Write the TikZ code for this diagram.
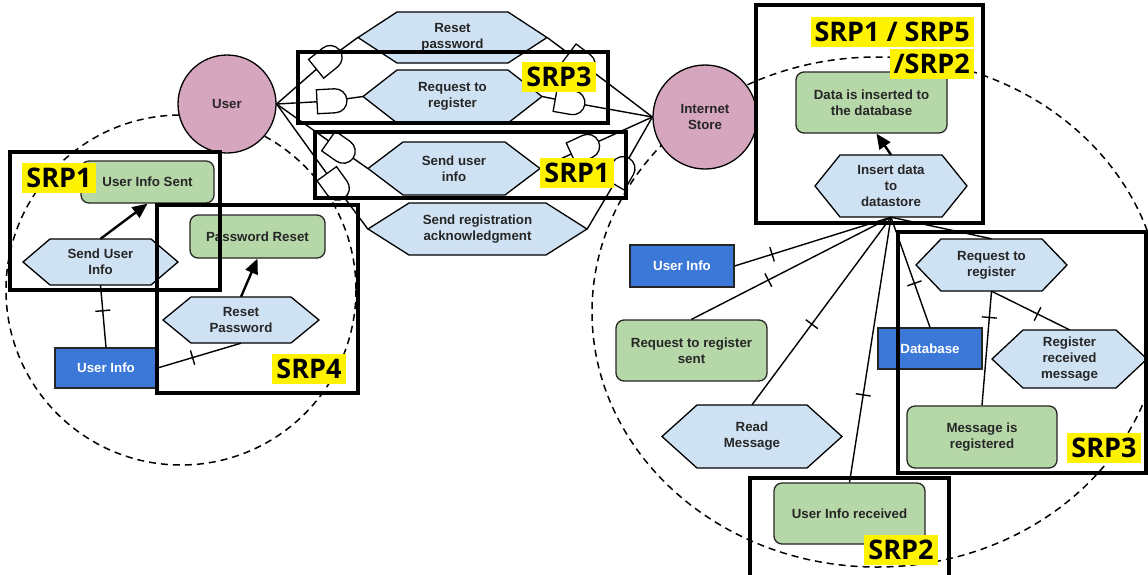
\documentclass[tikz,border=0pt]{standalone}
\usepackage{fontspec}
\setmainfont{Liberation Sans}
\newfontfamily\srpfont{Open Sans}
\usetikzlibrary{arrows.meta,decorations.markings,shapes.gates.logic.US}

\definecolor{actorpink}{HTML}{D5A6BD}
\definecolor{hexblue}{HTML}{CFE2F3}
\definecolor{resgreen}{HTML}{B6D7A8}
\definecolor{datablue}{HTML}{3C78D8}
\definecolor{inkgray}{HTML}{262626}

\tikzset{
  lbl/.style={font=\fontsize{13.3}{16}\selectfont\bfseries, text=inkgray, align=center},
  actor/.style={circle, draw=black, line width=1.3pt, fill=actorpink, lbl, inner sep=0pt},
  gbox/.style={rectangle, rounded corners=8pt, draw=inkgray, line width=1.3pt, fill=resgreen, lbl, inner sep=0pt},
  bbox/.style={rectangle, draw=inkgray, line width=1.1pt, fill=datablue, lbl, text=white, inner sep=0pt},
  hexbox/.style={rectangle, draw=none, lbl, inner sep=0pt},
  hexline/.style={draw=black, line width=1.3pt, fill=hexblue, line join=miter},
  conn/.style={draw=black, line width=1.4pt},
  arr/.style={draw=black, line width=2.4pt, -{Triangle[length=15pt,width=13pt]}},
  crossmark/.style={postaction={decorate,decoration={markings,
      mark=at position #1 with {\draw[black,line width=1.4pt] (0,-7.5pt) -- (0,7.5pt);}}}},
  gate/.style={and gate US, draw=black, fill=white, line width=1.3pt,
      minimum height=24pt, minimum width=24pt, inner sep=0pt},
  region/.style={draw=black, line width=1.5pt, dash pattern=on 7pt off 5pt},
  srpbox/.style={draw=black, line width=3.6pt},
  srplabel/.style={fill=yellow, text=black, font=\srpfont\bfseries\fontsize{27}{30}\selectfont,
      inner xsep=4pt, inner ysep=0pt, minimum height=30pt, text height=19.5pt, text depth=0pt},
}

% hexagonal activity: name, centre x, centre y, half width, half height, tip depth, text
\newcommand{\hexnode}[7]{%
  \draw[hexline] (#2-#4,#3) -- (#2-#4+#6,#3-#5) -- (#2+#4-#6,#3-#5) -- (#2+#4,#3)
     -- (#2+#4-#6,#3+#5) -- (#2-#4+#6,#3+#5) -- cycle;
  \node[hexbox, minimum width=2*#4, minimum height=2*#5] (#1) at (#2,#3) {#7};
}

\begin{document}
\begin{tikzpicture}[x=1pt,y=-1pt]
\useasboundingbox[fill=white] (0,0) rectangle (1148,574);

% dashed regions of the two actors
\draw[region] (181,290) circle[radius=175];
\draw[region] (877,312) ellipse[x radius=285, y radius=255];

% actors
\node[actor, minimum size=98] (user) at (227,104) {User};
\node[actor, minimum size=104] (store) at (705,117) {Internet\\Store};

% activities
\hexnode{rstp}{452.5}{37.5}{94.5}{25.5}{39}{Reset\\password}
\hexnode{rreg}{452.5}{96.5}{89.5}{26.5}{34}{Request to\\register}
\hexnode{sui2}{454}{168.5}{86}{26.5}{35}{Send user\\info}
\hexnode{sra}{477.5}{229}{109.5}{26}{41}{Send registration\\acknowledgment}
\hexnode{sui}{100.5}{262}{77.5}{23}{27}{Send User\\Info}
\hexnode{rsp}{241}{320}{78}{23}{28}{Reset\\Password}
\hexnode{ins}{891}{186}{76}{31}{25}{Insert data\\to\\datastore}
\hexnode{rr2}{991.5}{265}{75.5}{26}{25}{Request to\\register}
\hexnode{rrm}{1069.5}{359}{77.5}{29}{31}{Register\\received\\message}
\hexnode{rm}{752}{436.5}{90}{31.5}{35}{Read\\Message}

% results
\node[gbox, minimum width=133, minimum height=42] (uis) at (147.5,182) {User Info Sent};
\node[gbox, minimum width=135, minimum height=43] (pr) at (257.5,236.5) {Password Reset};
\node[gbox, minimum width=151, minimum height=61] (dib) at (871.5,102.5) {Data is inserted to\\the database};
\node[gbox, minimum width=151, minimum height=61] (rrs) at (691.5,350.5) {Request to register\\sent};
\node[gbox, minimum width=150, minimum height=62] (mir) at (982,437) {Message is\\registered};
\node[gbox, minimum width=151, minimum height=61] (uirc) at (849.5,513.5) {User Info received};

% data objects
\node[bbox, minimum width=102, minimum height=40] (ui1) at (106,368) {User Info};
\node[bbox, minimum width=104, minimum height=42] (ui2) at (682,266) {User Info};
\node[bbox, minimum width=104, minimum height=41] (db) at (930,348.5) {Database};

% left actor internals
\draw[arr] (sui.north) -- (uis.south);
\draw[arr] (rsp.north) -- (pr.south);
\draw[conn, crossmark=0.41] (sui.south) -- (ui1.north);
\draw[conn, crossmark=0.42] (ui1.east) -- (rsp.south);

% dependencies between the actors, each passing two gates
\coordinate (gA) at (327,60);
\coordinate (gB) at (331,101);
\coordinate (gC) at (340,149);
\coordinate (gD) at (335,185);
\coordinate (gA2) at (580,62);
\coordinate (gB2) at (569,102);
\coordinate (gC2) at (584,148);
\coordinate (gD2) at (621,172);
\draw[conn] (user.east) -- (gA) -- (rstp.west);
\draw[conn] (user.east) -- (gB) -- (rreg.west);
\draw[conn] (user.east) -- (gC) -- (sui2.west);
\draw[conn] (user.east) -- (gD) -- (sra.west);
\draw[conn] (rstp.east) -- (gA2) -- (store.west);
\draw[conn] (rreg.east) -- (gB2) -- (store.west);
\draw[conn] (sui2.east) -- (gC2) -- (store.west);
\draw[conn] (sra.east) -- (gD2) -- (store.west);
\node[gate, rotate=39] (gateA) at (gA) {};
\node[gate, rotate=3] (gateB) at (gB) {};
\node[gate, rotate=-35] (gateC) at (gC) {};
\node[gate, rotate=-54] (gateD) at (gD) {};
\node[gate, rotate=-37] (gateA2) at (gA2) {};
\node[gate, rotate=-10] (gateB2) at (gB2) {};
\node[gate, rotate=25] (gateC2) at (gC2) {};
\node[gate, rotate=60] (gateD2) at (gD2) {};

% right actor internals
\draw[arr] (ins.north) -- ([xshift=5pt]dib.south);
\draw[conn, crossmark=0.76] (ins.south) -- (ui2.east);
\draw[conn, crossmark=0.615] (ins.south) -- (rrs.north);
\draw[conn, crossmark=0.57] (ins.south) -- (rm.north);
\draw[conn, crossmark=0.67] (ins.south) -- (uirc.north);
\draw[conn, crossmark=0.6] (ins.south) -- (db.north);
\draw[conn] (ins.south) -- (rr2.north);
\draw[conn, crossmark=0.23] (rr2.south) -- (mir.north);
\draw[conn, crossmark=0.59] (rr2.south) -- (rrm.north);

% requirement boxes
\draw[srpbox] (10,152) rectangle (220,290);
\draw[srpbox] (157,205) rectangle (358,393);
\draw[srpbox] (298,52) rectangle (608,123);
\draw[srpbox] (315,132) rectangle (626,198);
\draw[srpbox] (756,5) rectangle (983,223);
\draw[srpbox] (898,232) rectangle (1146,473);
\draw[srpbox] (750,478) rectangle (949,580);

% requirement labels
\node[srplabel] (l1) at (59,178) {SRP1};
\node[srplabel] (l4) at (309,369) {SRP4};
\node[srplabel] (l3) at (559,77) {SRP3};
\node[srplabel] (l1b) at (577,173) {SRP1};
\node[srplabel, anchor=east] (l15) at (974,32) {SRP1 / SRP5};
\node[srplabel, anchor=east] (l2b) at (974,63.5) {/SRP2};
\node[srplabel] (l3b) at (1104,448) {SRP3};
\node[srplabel] (l2) at (901,550) {SRP2};
\end{tikzpicture}
\end{document}
